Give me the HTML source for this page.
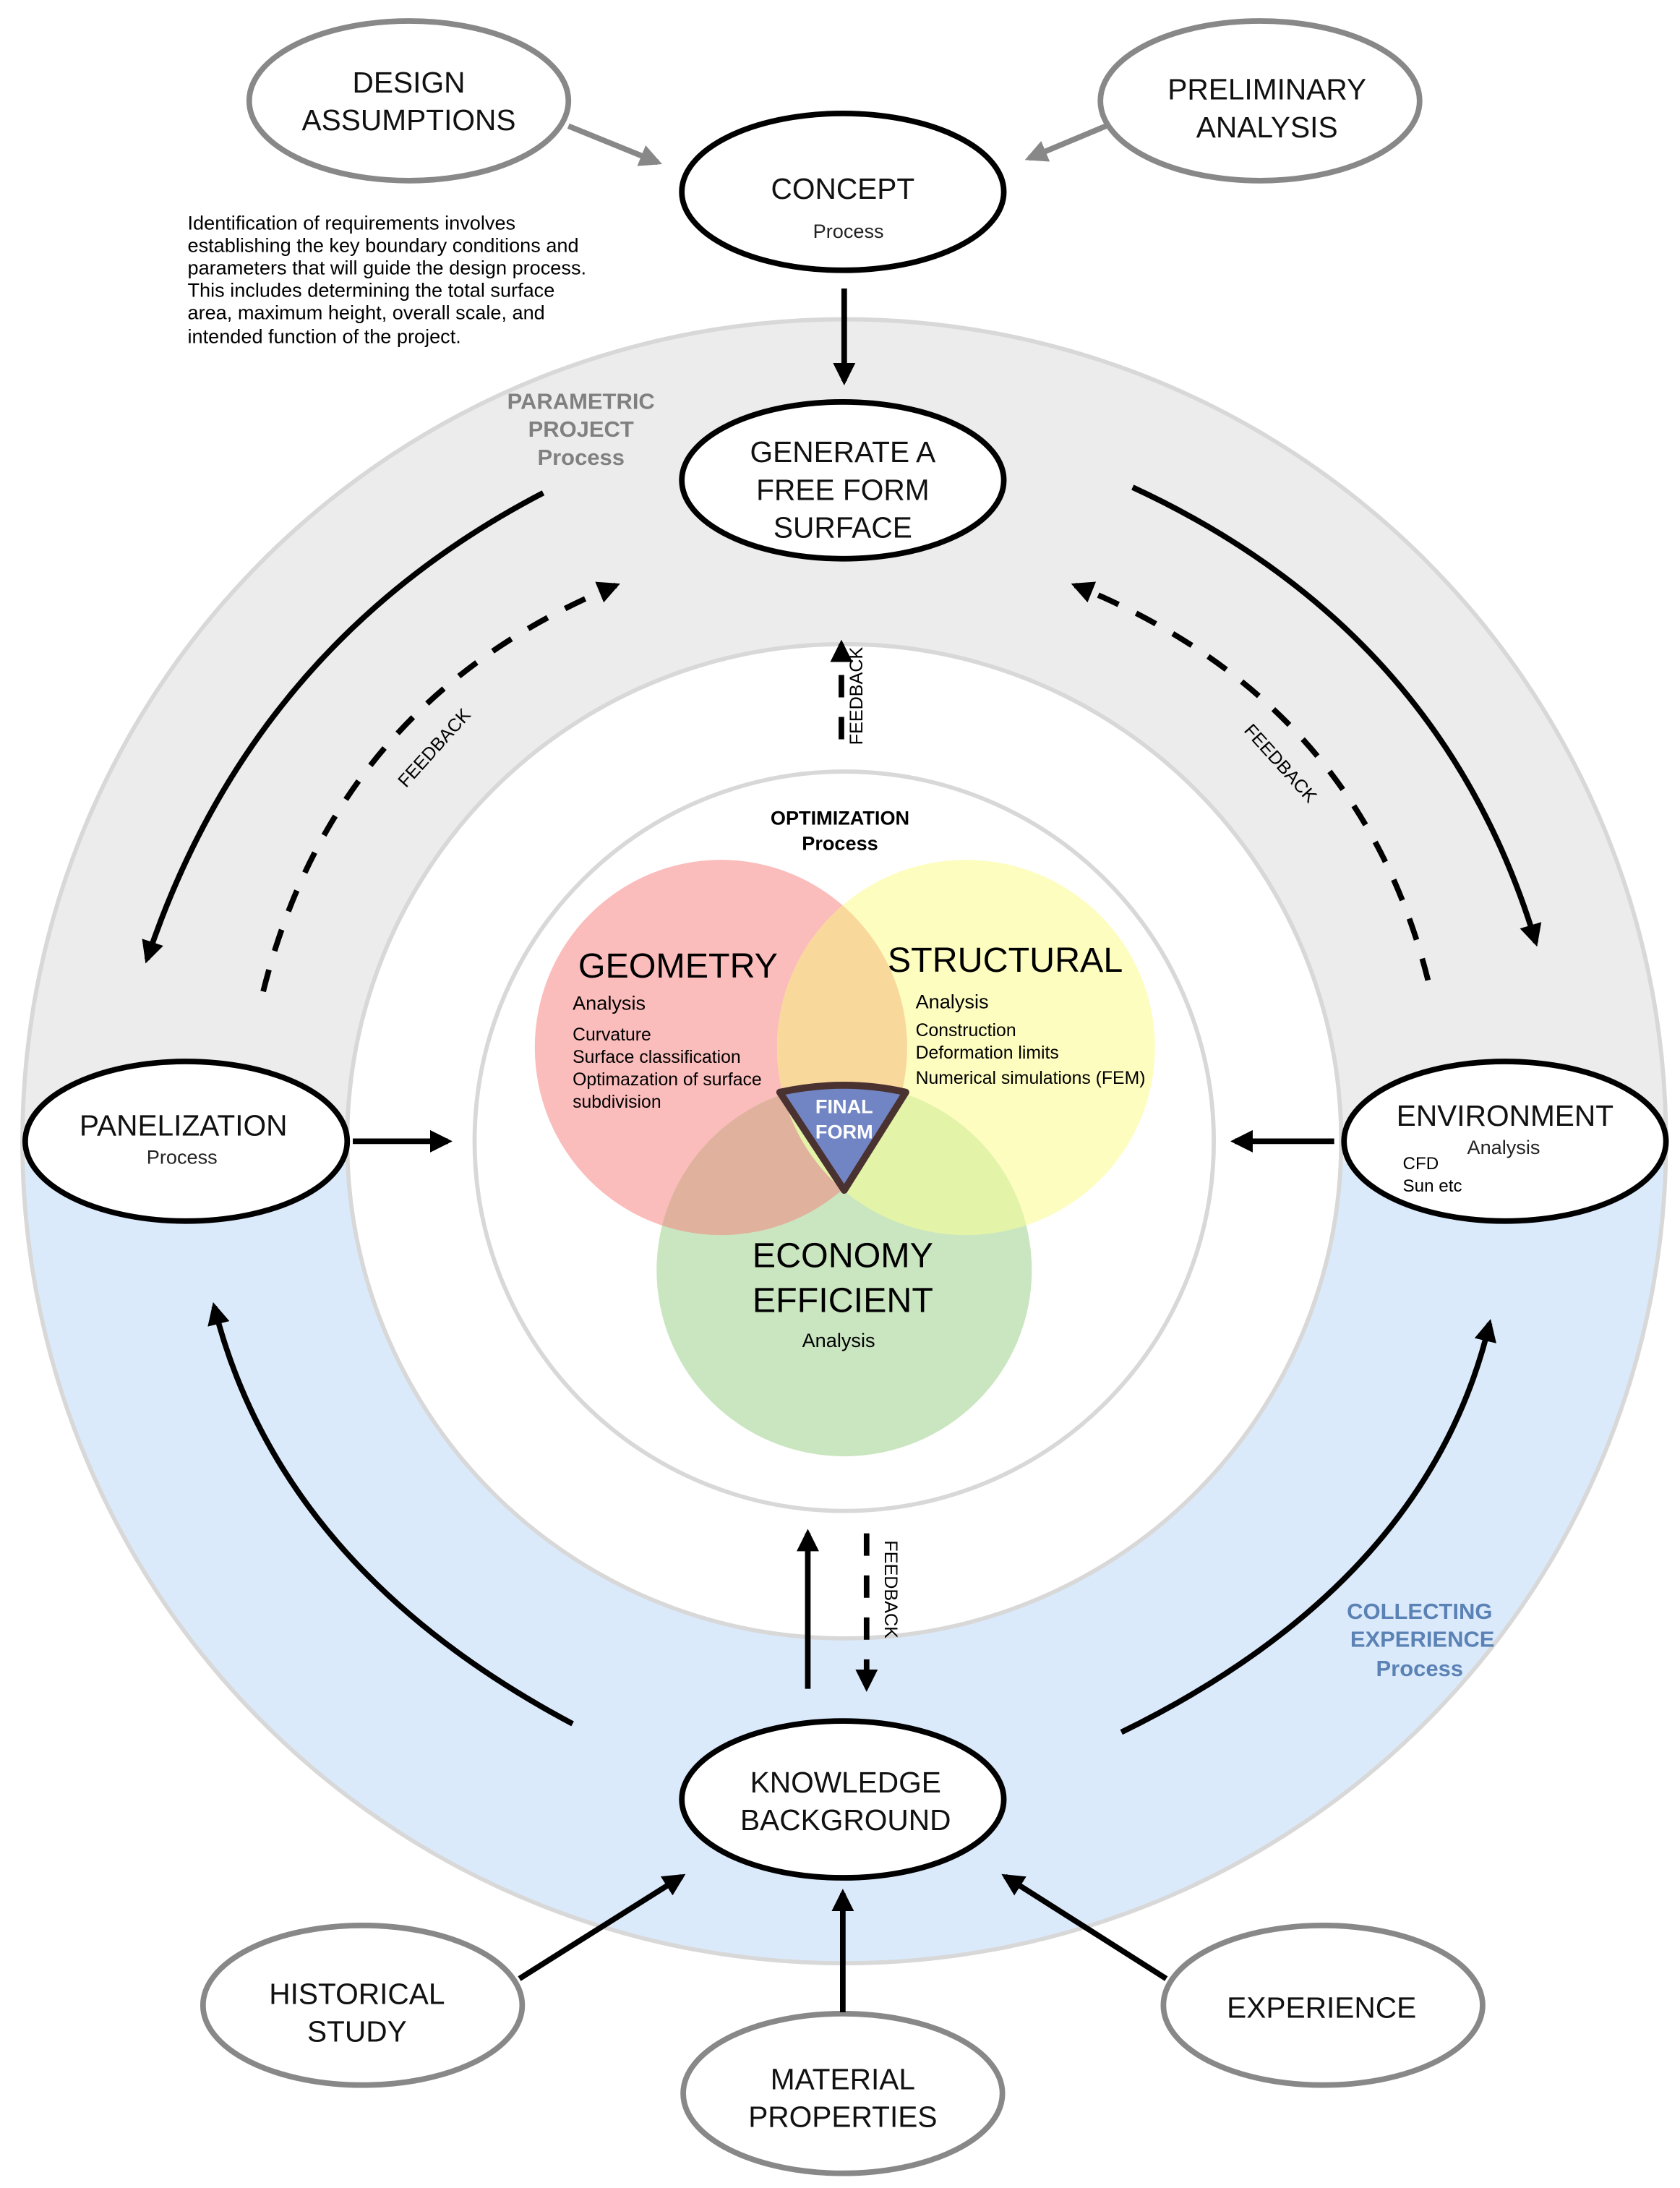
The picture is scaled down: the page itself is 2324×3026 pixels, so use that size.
<!DOCTYPE html>
<html><head><meta charset="utf-8"><style>
html,body{margin:0;padding:0;background:#fff}
svg{display:block}
text{font-family:"Liberation Sans",Arial,sans-serif}
</style></head><body>
<svg width="2324" height="3026" viewBox="0 0 1200 1562.5" preserveAspectRatio="none" xmlns="http://www.w3.org/2000/svg">
<defs>
<marker id="ah" viewBox="0 0 10 10" refX="8" refY="5" markerWidth="4" markerHeight="4" orient="auto-start-reverse"><path d="M0,0 L10,5 L0,10 z" fill="#000"/></marker>
<marker id="ahg" viewBox="0 0 10 10" refX="8" refY="5" markerWidth="4" markerHeight="4" orient="auto"><path d="M0,0 L10,5 L0,10 z" fill="#888"/></marker>
<clipPath id="top"><rect x="0" y="0" width="1200" height="830"/></clipPath>
<clipPath id="bot"><rect x="0" y="830" width="1200" height="800"/></clipPath>
<clipPath id="cg"><ellipse cx="515" cy="748" rx="133" ry="134"/></clipPath>
<clipPath id="cs"><ellipse cx="690" cy="748" rx="135" ry="134"/></clipPath>
</defs>
<circle cx="603" cy="815" r="587" fill="#ececec" clip-path="url(#top)"/>
<circle cx="603" cy="815" r="587" fill="#dbeafb" clip-path="url(#bot)"/>
<circle cx="603" cy="815" r="587" fill="none" stroke="#d8d8d8" stroke-width="3"/>
<circle cx="603" cy="815" r="355" fill="#fff" stroke="#d8d8d8" stroke-width="3"/>
<circle cx="603" cy="815" r="264" fill="#fff" stroke="#d8d8d8" stroke-width="3"/>
<!-- venn -->
<ellipse cx="515" cy="748" rx="133" ry="134" fill="#fbbcbc"/>
<ellipse cx="690" cy="748" rx="135" ry="134" fill="#fdfdc0"/>
<ellipse cx="603" cy="907" rx="134" ry="133" fill="#cae6c0"/>
<ellipse cx="690" cy="748" rx="135" ry="134" fill="#f9d89c" clip-path="url(#cg)"/>
<ellipse cx="603" cy="907" rx="134" ry="133" fill="#e0b29e" clip-path="url(#cg)"/>
<ellipse cx="603" cy="907" rx="134" ry="133" fill="#e3f3a8" clip-path="url(#cs)"/>
<path d="M557,780 Q603,770 647,780 L603,850 Z" fill="#7185c4" stroke="#4a3230" stroke-width="5" stroke-linejoin="round"/>
<text x="603" y="795" font-size="14" font-weight="bold" fill="#fff" text-anchor="middle">FINAL</text>
<text x="603" y="813" font-size="14" font-weight="bold" fill="#fff" text-anchor="middle">FORM</text>
<text x="413" y="698" font-size="25">GEOMETRY</text>
<text x="409" y="721" font-size="14">Analysis</text>
<text x="409" y="743" font-size="12.8">Curvature</text>
<text x="409" y="759" font-size="12.8">Surface classification</text>
<text x="409" y="775" font-size="12.8">Optimazation of surface</text>
<text x="409" y="791" font-size="12.8">subdivision</text>
<text x="634" y="694" font-size="25">STRUCTURAL</text>
<text x="654" y="720" font-size="14">Analysis</text>
<text x="654" y="740" font-size="12.8">Construction</text>
<text x="654" y="756" font-size="12.8">Deformation limits</text>
<text x="654" y="774" font-size="12.8">Numerical simulations (FEM)</text>
<text x="602" y="905" font-size="25" text-anchor="middle">ECONOMY</text>
<text x="602" y="937" font-size="25" text-anchor="middle">EFFICIENT</text>
<text x="599" y="962" font-size="14" text-anchor="middle">Analysis</text>
<text x="600" y="589" font-size="14" font-weight="bold" text-anchor="middle">OPTIMIZATION</text>
<text x="600" y="607" font-size="14" font-weight="bold" text-anchor="middle">Process</text>
<g font-size="16" font-weight="bold" fill="#808080" text-anchor="middle">
<text x="415" y="292">PARAMETRIC</text><text x="415" y="312">PROJECT</text><text x="415" y="332">Process</text>
</g>
<g font-size="16" font-weight="bold" fill="#5b82b5" text-anchor="middle">
<text x="1014" y="1156">COLLECTING</text><text x="1016" y="1176">EXPERIENCE</text><text x="1014" y="1197">Process</text>
</g>
<g fill="#fff" stroke="#888" stroke-width="4">
<ellipse cx="292" cy="72" rx="114" ry="57"/>
<ellipse cx="900" cy="72" rx="114" ry="57"/>
<ellipse cx="259" cy="1432" rx="114" ry="57"/>
<ellipse cx="602" cy="1495" rx="114" ry="57"/>
<ellipse cx="945" cy="1432" rx="114" ry="57"/>
</g>
<g fill="#fff" stroke="#000" stroke-width="4">
<ellipse cx="602" cy="137" rx="115" ry="56"/>
<ellipse cx="602" cy="343" rx="115" ry="56"/>
<ellipse cx="133" cy="815" rx="115" ry="57"/>
<ellipse cx="1075" cy="815" rx="115" ry="57"/>
<ellipse cx="602" cy="1285" rx="115" ry="56"/>
</g>
<g font-size="21" text-anchor="middle" fill="#111">
<text x="292" y="66">DESIGN</text><text x="292" y="93">ASSUMPTIONS</text>
<text x="905" y="71">PRELIMINARY</text><text x="905" y="98">ANALYSIS</text>
<text x="602" y="142">CONCEPT</text>
<text x="602" y="330">GENERATE A</text><text x="602" y="357">FREE FORM</text><text x="602" y="384">SURFACE</text>
<text x="131" y="811">PANELIZATION</text>
<text x="1075" y="804">ENVIRONMENT</text>
<text x="604" y="1280">KNOWLEDGE</text><text x="604" y="1307">BACKGROUND</text>
<text x="255" y="1431">HISTORICAL</text><text x="255" y="1458">STUDY</text>
<text x="602" y="1492">MATERIAL</text><text x="602" y="1519">PROPERTIES</text>
<text x="944" y="1441">EXPERIENCE</text>
</g>
<g font-size="14" fill="#222" text-anchor="middle">
<text x="606" y="170">Process</text>
<text x="130" y="831">Process</text>
<text x="1074" y="824">Analysis</text>
</g>
<text x="1002" y="835" font-size="12.5">CFD</text>
<text x="1002" y="851" font-size="12.5">Sun etc</text>
<g font-size="14" fill="#000">
<text x="134" y="164">Identification of requirements involves</text>
<text x="134" y="180">establishing the key boundary conditions and</text>
<text x="134" y="196">parameters that will guide the design process.</text>
<text x="134" y="212">This includes determining the total surface</text>
<text x="134" y="228">area, maximum height, overall scale, and</text>
<text x="134" y="245">intended function of the project.</text>
</g>
<g stroke="#888" stroke-width="4" fill="none">
<line x1="406" y1="90" x2="470" y2="116" marker-end="url(#ahg)"/>
<line x1="790" y1="90" x2="735" y2="113" marker-end="url(#ahg)"/>
</g>
<g stroke="#000" stroke-width="4" fill="none">
<line x1="603" y1="206" x2="603" y2="272" marker-end="url(#ah)"/>
<path d="M388,352 Q180,460 105,685" marker-end="url(#ah)"/>
<path d="M809,348 Q1030,450 1097,673" marker-end="url(#ah)"/>
<line x1="252" y1="815" x2="320" y2="815" marker-end="url(#ah)"/>
<line x1="953" y1="815" x2="882" y2="815" marker-end="url(#ah)"/>
<path d="M409,1231 Q200,1120 153,933" marker-end="url(#ah)"/>
<path d="M801,1237 Q1020,1130 1064,945" marker-end="url(#ah)"/>
<line x1="577" y1="1206" x2="577" y2="1095" marker-end="url(#ah)"/>
<line x1="371" y1="1413" x2="487" y2="1340" marker-end="url(#ah)"/>
<line x1="602" y1="1437" x2="602" y2="1352" marker-end="url(#ah)"/>
<line x1="833" y1="1413" x2="718" y2="1340" marker-end="url(#ah)"/>
</g>
<g stroke="#000" stroke-width="4" fill="none" stroke-dasharray="16,14">
<path d="M188,708 Q240,500 440,418" marker-end="url(#ah)"/>
<path d="M1020,700 Q970,500 768,418" marker-end="url(#ah)"/>
<line x1="601" y1="528" x2="601" y2="460" marker-end="url(#ah)"/>
<line x1="619" y1="1095" x2="619" y2="1205" marker-end="url(#ah)"/>
</g>
<g font-size="13" fill="#000">
<text transform="translate(290,563) rotate(-48)">FEEDBACK</text>
<text transform="translate(888,522) rotate(48)">FEEDBACK</text>
<text transform="translate(616,532) rotate(-90)">FEEDBACK</text>
<text transform="translate(632,1100) rotate(90)">FEEDBACK</text>
</g>
</svg>
</body></html>
